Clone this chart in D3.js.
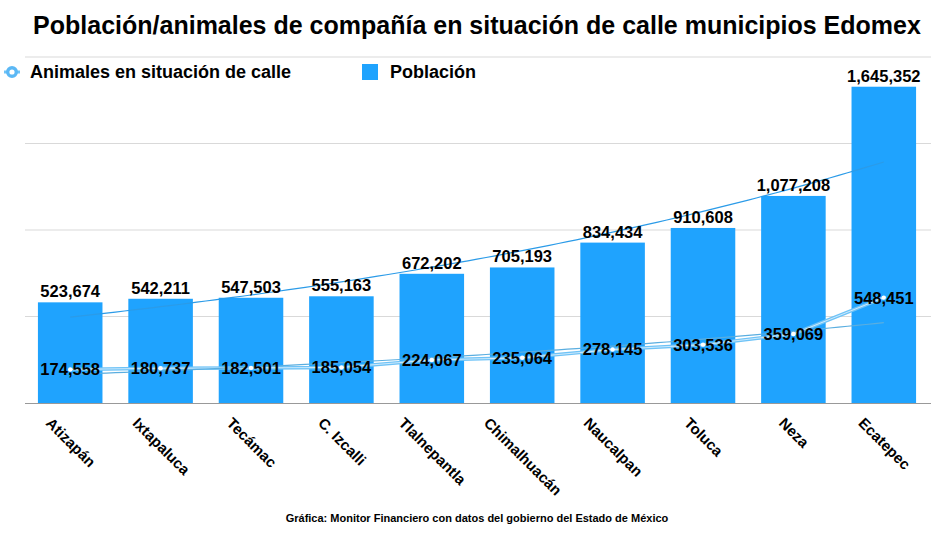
<!DOCTYPE html>
<html><head><meta charset="utf-8">
<script src="https://cdn.jsdelivr.net/npm/d3@7"></script>
<style>
html,body{margin:0;padding:0;background:#fff;}
text{font-family:"Liberation Sans",Arial,sans-serif;}
</style></head>
<body><svg id="c" width="950" height="534"></svg>
<script>
const categories = ["Atizapán","Ixtapaluca","Tecámac","C. Izcalli","Tlalnepantla","Chimalhuacán","Naucalpan","Toluca","Neza","Ecatepec"];
const poblacion = [523674,542211,547503,555163,672202,705193,834434,910608,1077208,1645352];
const animales = [174558,180737,182501,185054,224067,235064,278145,303536,359069,548451];
const yTicks = [0,450000,900000,1350000,1800000];
const title = "Población/animales de compañía en situación de calle municipios Edomex";
const caption = "Gráfica: Monitor Financiero con datos del gobierno del Estado de México";

const svg = d3.select("#c");
const L = 25, R = 929, T = 57, B = 403;
const x = d3.scaleBand().domain(categories).range([L, R]).paddingInner(0.286).paddingOuter(0.143);
const y = d3.scaleLinear().domain([0, 1800000]).range([B, T]);
const fmt = d3.format(",");
const cx = d => x(d) + x.bandwidth()/2;

svg.append("text").attr("x", 477).attr("y", 34).attr("text-anchor","middle")
  .attr("font-size", 25).attr("font-weight","bold").attr("fill","#000").text(title);

// gridlines
svg.append("g").selectAll("line").data(yTicks.slice(1)).join("line")
  .attr("x1", L).attr("x2", R+2).attr("y1", d=>y(d)).attr("y2", d=>y(d))
  .attr("stroke","#d9d9d9").attr("stroke-width",1);

// bars
svg.append("g").selectAll("rect").data(categories).join("rect")
  .attr("x", d=>x(d)).attr("width", x.bandwidth())
  .attr("y", (d,i)=>y(poblacion[i])).attr("height",(d,i)=>B-y(poblacion[i]))
  .attr("fill","#1fa3fe");

// baseline axis
const xAxis = d3.axisBottom(x).tickSize(0).tickFormat("");
const ax = svg.append("g").attr("transform",`translate(0,${B})`).call(xAxis);
ax.select(".domain").attr("stroke","#999").attr("stroke-width",1.2).attr("d",`M${L},0.5H${R+2}`);

// exponential trendlines (least squares on log values)
function expFit(vals){
  const n = vals.length, xs = d3.range(n), ls = vals.map(Math.log);
  const mx = d3.mean(xs), my = d3.mean(ls);
  const b = d3.sum(xs,(v,i)=>(v-mx)*(ls[i]-my))/d3.sum(xs,v=>(v-mx)*(v-mx));
  const a = my - b*mx;
  return t => Math.exp(a + b*t);
}
const step = x.step();
function trend(vals, color, w){
  const f = expFit(vals);
  const pts = d3.range(0, vals.length-1+1e-9, 0.1).map(t=>[cx(categories[0]) + t*step, y(f(t))]);
  svg.append("path").attr("d", d3.line()(pts)).attr("fill","none").attr("stroke",color).attr("stroke-width",w);
}
trend(poblacion, "#2b9be8", 1.2);

// animals line
const line = d3.line().x((d,i)=>cx(categories[i])).y(d=>y(d));
svg.append("path").datum(animales).attr("d", line).attr("fill","none")
  .attr("stroke","#6ec3f7").attr("stroke-width",3.5);
svg.append("path").datum(animales).attr("d", line).attr("fill","none")
  .attr("stroke","#cfeafc").attr("stroke-width",1);
trend(animales, "#5aaee0", 1.2);
svg.append("g").selectAll("circle").data(animales).join("circle")
  .attr("cx",(d,i)=>cx(categories[i])).attr("cy",d=>y(d)).attr("r",2.2).attr("fill","#fff");

// labels
svg.append("g").selectAll("text").data(poblacion).join("text")
  .attr("x",(d,i)=>cx(categories[i])).attr("y",d=>y(d)-5).attr("text-anchor","middle")
  .attr("font-size",16.5).attr("font-weight","bold").attr("fill","#000").text(d=>fmt(d));
svg.append("g").selectAll("text").data(animales).join("text")
  .attr("x",(d,i)=>cx(categories[i])).attr("y",d=>y(d)).attr("dy","0.36em").attr("text-anchor","middle")
  .attr("font-size",16.5).attr("font-weight","bold").attr("fill","#000").text(d=>fmt(d));

// x labels (centred on the bar, rotated 45°)
svg.append("g").selectAll("text").data(categories).join("text")
  .attr("font-size",15).attr("font-weight","bold").attr("fill","#000").text(d=>d)
  .each(function(d){
    const w = this.getComputedTextLength();
    const sx = cx(d) - 3 - w*0.3536;
    d3.select(this).attr("transform", `translate(${sx},424) rotate(45)`);
  });

// legend
svg.append("line").attr("x1",4).attr("x2",20).attr("y1",72).attr("y2",72).attr("stroke","#6ec3f7").attr("stroke-width",3);
svg.append("circle").attr("cx",12).attr("cy",72).attr("r",4.3).attr("fill","#fff").attr("stroke","#5bb8f5").attr("stroke-width",3.4);
svg.append("text").attr("x",30).attr("y",78).attr("font-size",18).attr("font-weight","bold").text("Animales en situación de calle");
svg.append("rect").attr("x",362).attr("y",64).attr("width",16).attr("height",16).attr("fill","#1fa3fe");
svg.append("text").attr("x",390).attr("y",78).attr("font-size",18).attr("font-weight","bold").text("Población");

svg.append("text").attr("x",477).attr("y",522).attr("text-anchor","middle")
  .attr("font-size",11).attr("font-weight","bold").text(caption);
</script></body></html>
